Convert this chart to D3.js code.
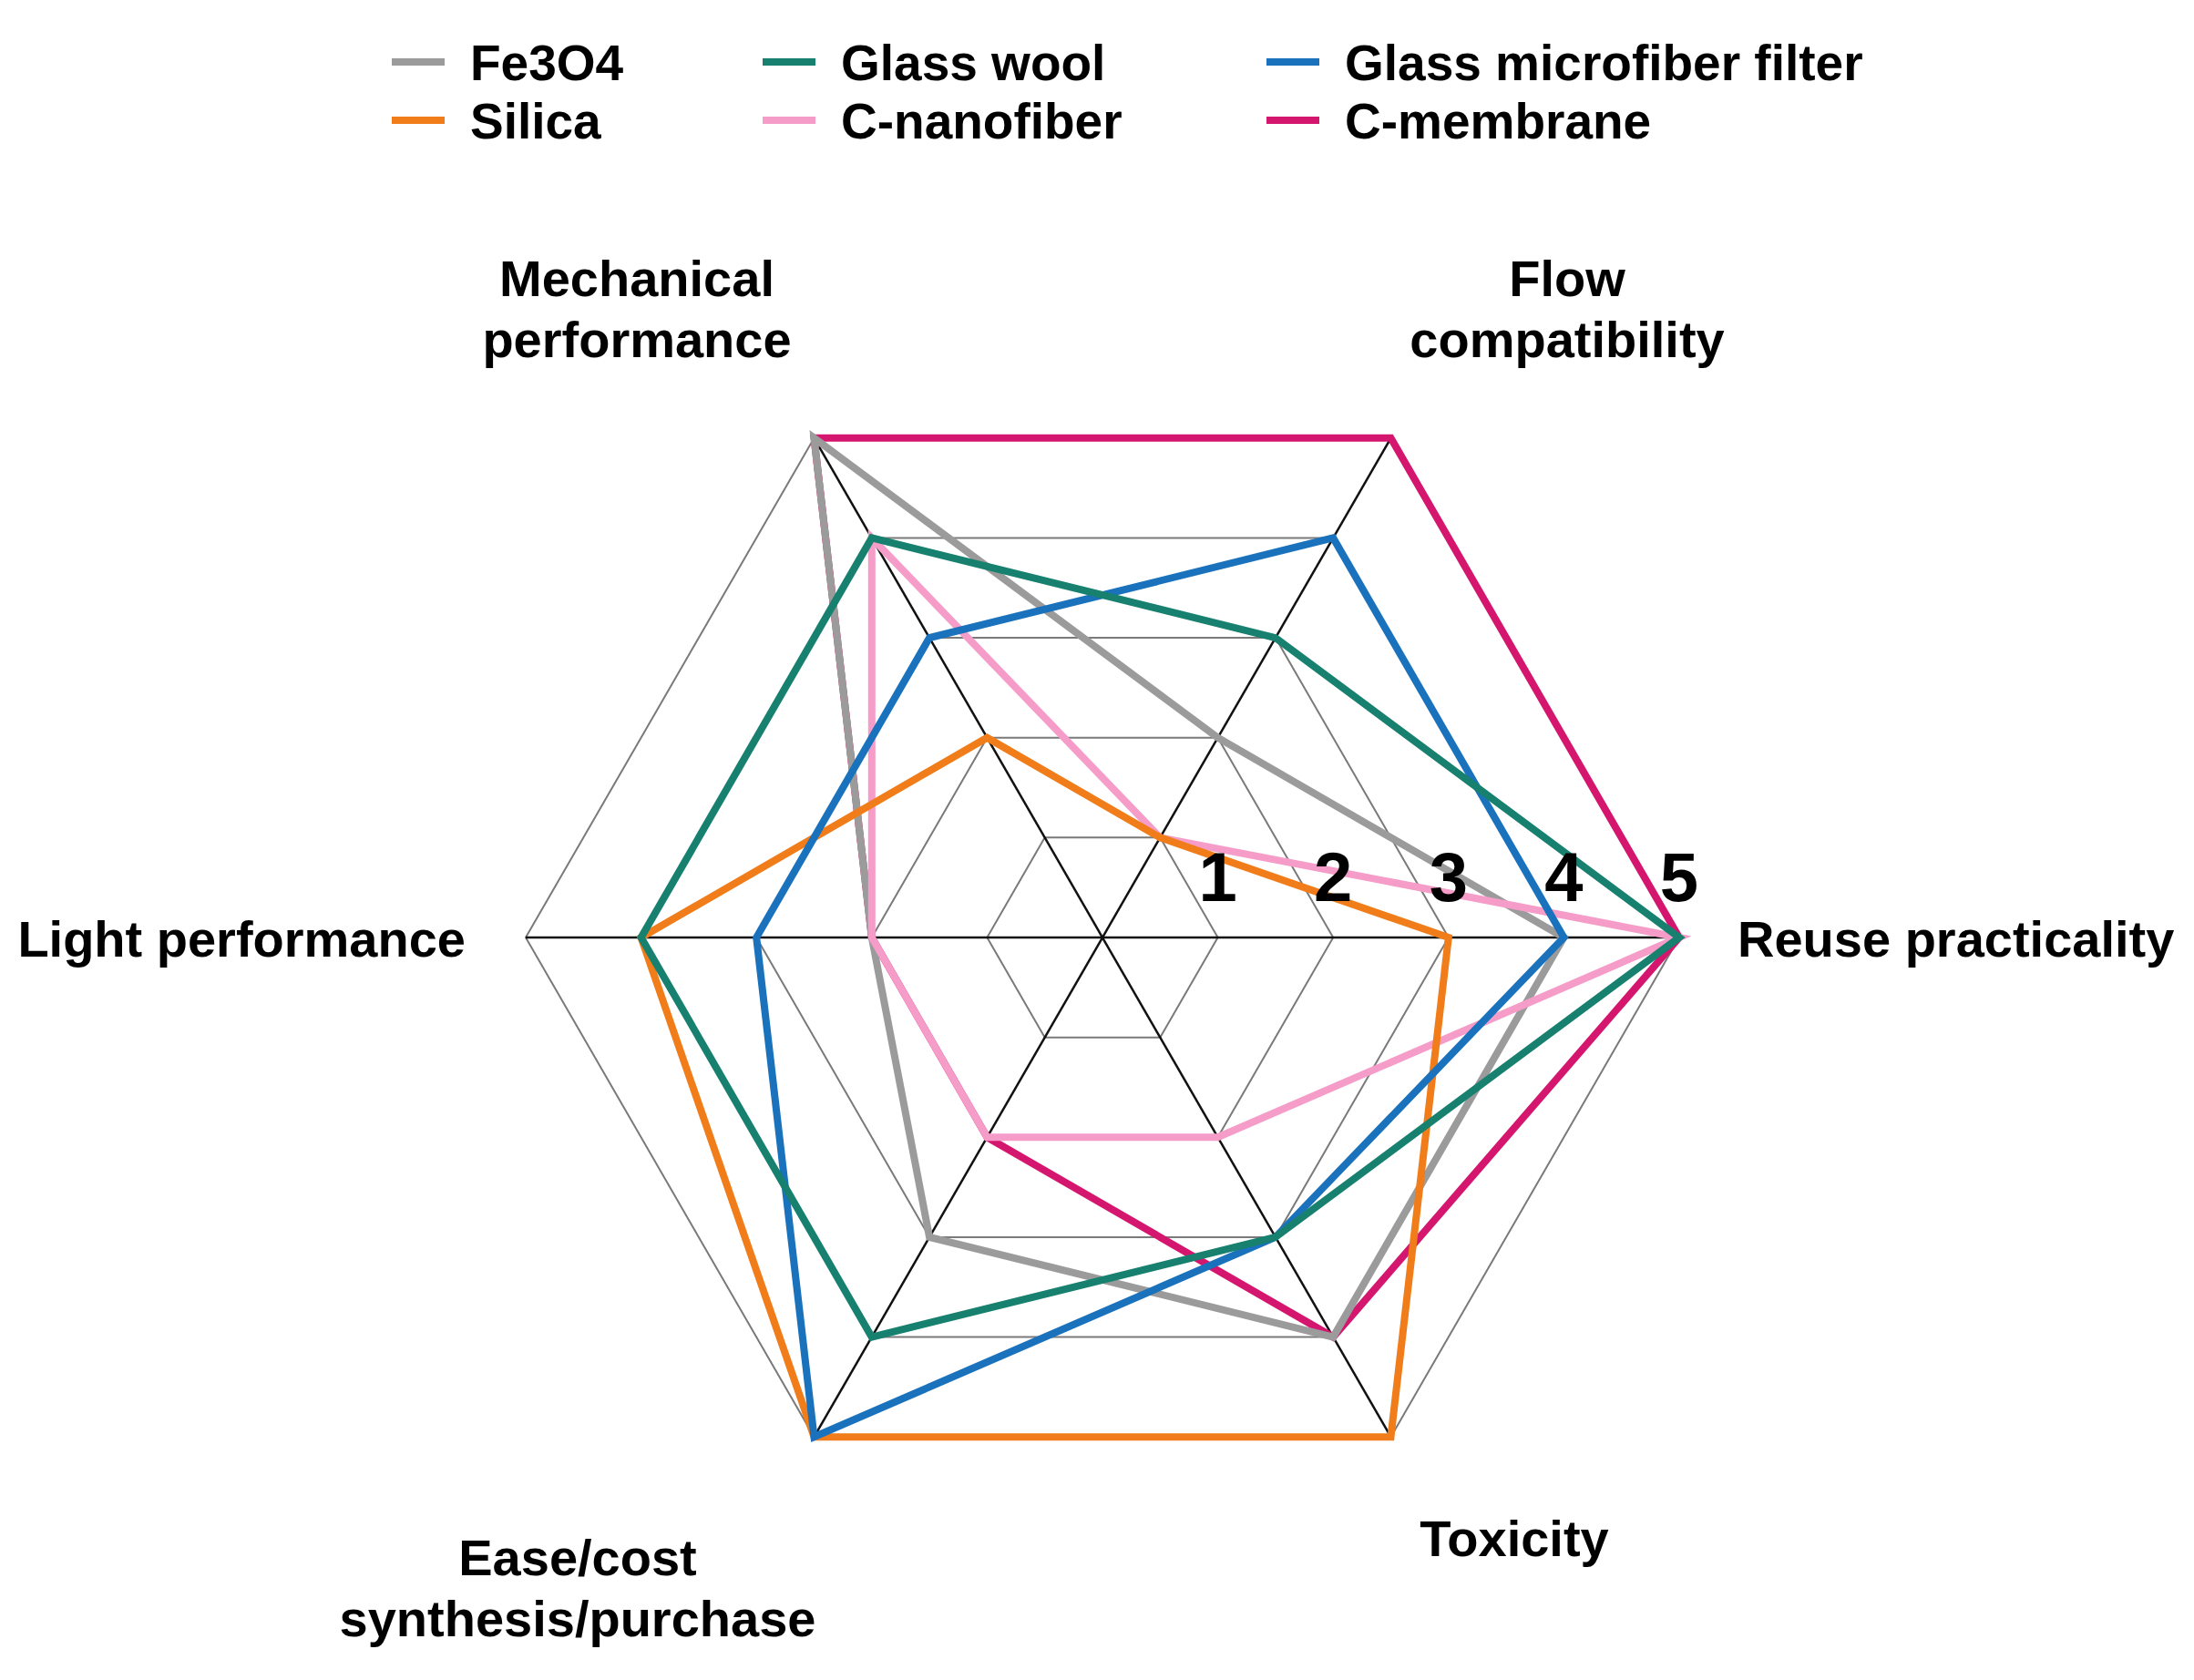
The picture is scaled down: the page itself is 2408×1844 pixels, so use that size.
<!DOCTYPE html>
<html lang="en">
<head>
  <meta charset="UTF-8">
  <title>Support material radar chart</title>
  <style>
    body { margin: 0; background: #ffffff; }
    svg { display: block; }
    text { font-family: 'Liberation Sans', Arial, sans-serif; font-weight: bold; fill: #000; }
  </style>
</head>
<body>
<svg width="2408" height="1844"></svg>

<script src="https://d3js.org/d3.v7.min.js"></script>
<script>
  // axis order runs counter-clockwise starting at the right
  const categories = ["Reuse practicality", "Flow compatibility", "Mechanical performance",
                      "Light performance", "Ease/cost synthesis/purchase", "Toxicity"];
  const ticks = [1, 2, 3, 4, 5];

  const seriesNames = ["Fe3O4", "Silica", "Glass wool", "C-nanofiber", "Glass microfiber filter", "C-membrane"];
  const fe3o4      = [4, 2, 5, 2, 3, 4];
  const silica     = [3, 1, 2, 4, 5, 5];
  const glassWool  = [5, 3, 4, 4, 4, 3];
  const cNanofiber = [5, 1, 4, 2, 2, 2];
  const glassMicro = [4, 4, 3, 3, 5, 3];
  const cMembrane  = [5, 5, 5, 2, 2, 4];

  const colors = {
    "Fe3O4": "#9b9b9b",
    "Silica": "#f07d1a",
    "Glass wool": "#17806f",
    "C-nanofiber": "#f59cc9",
    "Glass microfiber filter": "#1a72bd",
    "C-membrane": "#d5166f"
  };

  const series = [
    { name: "C-membrane", values: cMembrane },
    { name: "Fe3O4", values: fe3o4 },
    { name: "C-nanofiber", values: cNanofiber },
    { name: "Silica", values: silica },
    { name: "Glass microfiber filter", values: glassMicro },
    { name: "Glass wool", values: glassWool }
  ];

  const cx = 1210, cy = 1029, R = 633;
  const svg = d3.select("svg");

  const r = d3.scaleLinear().domain([0, 5]).range([0, R]);
  const angle = d3.scaleLinear().domain([0, categories.length]).range([Math.PI / 2, Math.PI / 2 - 2 * Math.PI]);

  const g = svg.append("g").attr("transform", `translate(${cx},${cy})`);

  const radial = d3.lineRadial()
    .angle((d, i) => angle(i))
    .radius(d => r(d))
    .curve(d3.curveLinearClosed);

  // grid hexagons
  g.selectAll(".grid")
    .data(ticks)
    .enter().append("path")
    .attr("d", t => radial(categories.map(() => t)))
    .attr("fill", "none")
    .attr("stroke", "#7a7a7a")
    .attr("stroke-width", 2);

  // spokes
  g.selectAll(".spoke")
    .data(categories)
    .enter().append("line")
    .attr("x1", 0).attr("y1", 0)
    .attr("x2", (d, i) => r(5) * Math.sin(angle(i)))
    .attr("y2", (d, i) => -r(5) * Math.cos(angle(i)))
    .attr("stroke", "#111")
    .attr("stroke-width", 2.5);

  // series
  g.selectAll(".series")
    .data(series)
    .enter().append("path")
    .attr("d", d => radial(d.values))
    .attr("fill", "none")
    .attr("stroke", d => colors[d.name])
    .attr("stroke-width", 8)
    .attr("stroke-linejoin", "miter");

  // tick numbers along the right axis
  g.selectAll(".tick")
    .data(ticks)
    .enter().append("text")
    .attr("x", t => r(t))
    .attr("y", -40)
    .attr("text-anchor", "middle")
    .attr("font-size", 76)
    .text(t => t);

  // axis labels
  const labelPos = [
    { x: 1907, y: 1050, anchor: "start", lines: ["Reuse practicality"] },
    { x: 1720, y: 325, anchor: "middle", lines: ["Flow", "compatibility"] },
    { x: 699, y: 325, anchor: "middle", lines: ["Mechanical", "performance"] },
    { x: 511, y: 1050, anchor: "end", lines: ["Light performance"] },
    { x: 634, y: 1729, anchor: "middle", lines: ["Ease/cost", "synthesis/purchase"] },
    { x: 1662, y: 1708, anchor: "middle", lines: ["Toxicity"] }
  ];
  labelPos.forEach(p => {
    const t = svg.append("text")
      .attr("x", p.x).attr("y", p.y)
      .attr("text-anchor", p.anchor)
      .attr("font-size", 56);
    p.lines.forEach((ln, i) => {
      t.append("tspan").attr("x", p.x).attr("dy", i === 0 ? 0 : 67).text(ln);
    });
  });

  // legend: 3 columns x 2 rows
  const legendX = [430, 837, 1390];
  const legendY = [68, 132];
  const legend = svg.append("g");
  seriesNames.forEach((name, i) => {
    const col = Math.floor(i / 2), row = i % 2;
    const item = legend.append("g").attr("transform", `translate(${legendX[col]},${legendY[row]})`);
    item.append("line")
      .attr("x1", 0).attr("x2", 58).attr("y1", 0).attr("y2", 0)
      .attr("stroke", colors[name]).attr("stroke-width", 8);
    item.append("text")
      .attr("x", 86).attr("y", 20)
      .attr("font-size", 55)
      .text(name);
  });
</script>
</body>
</html>
